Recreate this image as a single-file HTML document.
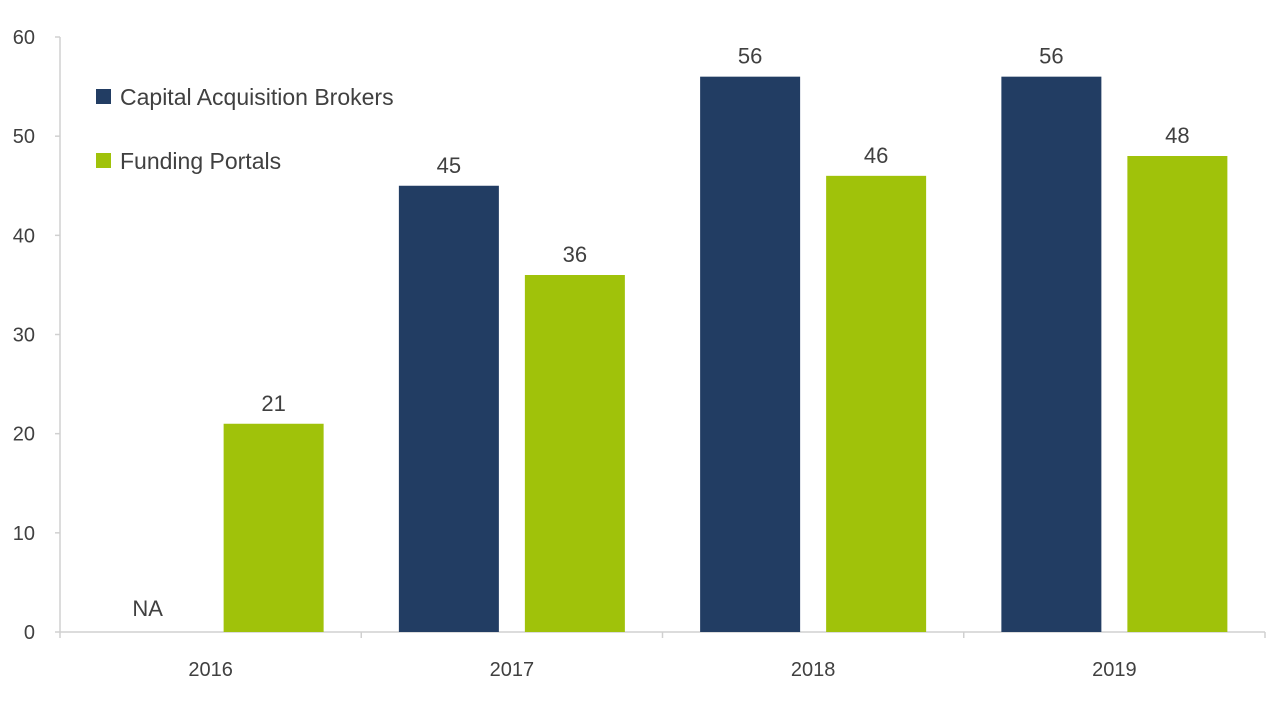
<!DOCTYPE html>
<html><head><meta charset="utf-8"><style>
body{margin:0;background:#fff}
svg text{font-family:"Liberation Sans",sans-serif;fill:#404040}
</style></head><body>
<svg id="chart" width="1275" height="700">
<g id="axes"></g><g id="bars"></g>
<g>
<rect x="96" y="89" width="15" height="15" fill="#223d63"/>
<text x="120" y="105" font-size="23">Capital Acquisition Brokers</text>
<rect x="96" y="153" width="15" height="15" fill="#a0c20a"/>
<text x="120" y="169" font-size="23">Funding Portals</text>
</g>
</svg>
<script>
const categories=["2016","2017","2018","2019"];
const cabValues=[null,45,56,56];
const fpValues=[21,36,46,48];
const yTicks=[0,10,20,30,40,50,60];
const NS="http://www.w3.org/2000/svg";
const x0=60,x1=1265,y0=632,yTop=37;
const band=(x1-x0)/categories.length;
const y=v=>y0-(v/60)*(y0-yTop);
const cx=i=>x0+band*(i+0.5);
function mk(t,a,p){const e=document.createElementNS(NS,t);for(const k in a)e.setAttribute(k,a[k]);p.appendChild(e);return e;}
const ax=document.getElementById('axes'),bg=document.getElementById('bars');
let l=mk('line',{x1:x0,y1:yTop,x2:x0,y2:y0,stroke:'#d0d0d0','stroke-width':1.5},ax);


l=mk('line',{x1:x0,y1:y0,x2:x1,y2:y0,stroke:'#d0d0d0','stroke-width':1.5},ax);


yTicks.forEach(v=>{
 const tk=mk('line',{x1:x0-5,y1:y(v),x2:x0,y2:y(v),stroke:'#d0d0d0','stroke-width':1.5},ax);
 
 
 const t=mk('text',{x:35,y:y(v)+7,'font-size':20,'text-anchor':'end'},ax);t.textContent=v;
 
 
});
for(let i=0;i<=categories.length;i++){
 const tk=mk('line',{x1:x0+band*i,y1:y0,x2:x0+band*i,y2:y0+6,stroke:'#d0d0d0','stroke-width':1.5},ax);
 
 
}
categories.forEach((c,i)=>{
 const t=mk('text',{x:cx(i),y:676,'font-size':20,'text-anchor':'middle'},ax);t.textContent=c;
 
 
 [[cabValues[i],-63,'#223d63','cab'],[fpValues[i],63,'#a0c20a','fp']].forEach(([v,off,col,n])=>{
  const bx=cx(i)+off;
  if(v==null){
   const na=mk('text',{x:bx,y:y0-16,'font-size':22,'text-anchor':'middle'},bg);na.textContent='NA';
   
   
   return;
  }
  const r=mk('rect',{x:bx-50,y:y(v),width:100,height:y0-y(v),fill:col},bg);
  
  
  const t2=mk('text',{x:bx,y:y(v)-13,'font-size':22,'text-anchor':'middle'},bg);t2.textContent=v;
  
  
 });
});
</script>
</body></html>
